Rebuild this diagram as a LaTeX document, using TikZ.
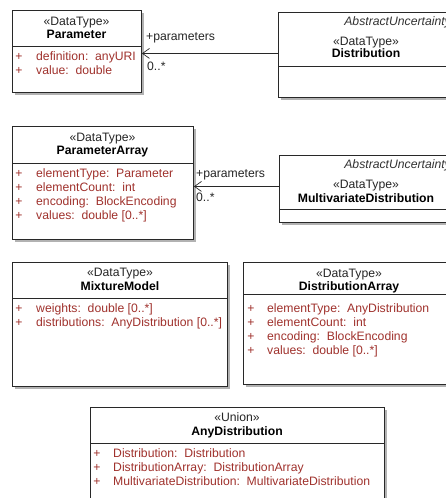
\documentclass[tikz,border=0pt]{standalone}
\usepackage{fontspec}
\setmainfont{Liberation Sans}
\usetikzlibrary{arrows.meta,shadows}
\definecolor{attrred}{RGB}{160,50,45}
\definecolor{edge}{RGB}{40,40,40}
\begin{document}
\begin{tikzpicture}[x=1pt,y=-1pt,
  every node/.style={inner sep=0pt, text height=8.8pt, text depth=2.6pt, font=\fontsize{12.2}{14}\selectfont},
  umlbox/.style={draw=edge, line width=0.9pt, fill=white, anchor=north west, text height=, text depth=,
    drop shadow={shadow xshift=2.5pt, shadow yshift=-2.5pt, fill=black!30, opacity=1}},
  divider/.style={draw=edge, line width=0.9pt},
  stereo/.style={text=black!85},
  cname/.style={font=\fontsize{12.2}{14}\selectfont\bfseries},
  abstr/.style={font=\fontsize{12.2}{14}\selectfont\itshape, text=black!80, anchor=east},
  plus/.style={text=attrred},
  attr/.style={text=attrred, anchor=west},
  assoc/.style={draw=edge, line width=0.8pt, -{Straight Barb[length=7pt,width=10pt,line width=0.7pt]}},
  rolelbl/.style={anchor=west, text=black!85}
]
\clip (0,0) rectangle (446,498);
\fill[white] (0,0) rectangle (446,498);

% Parameter
\node[umlbox, minimum width=129, minimum height=82] (param) at (12,10) {};
\draw[divider] (param.west |- 0,46) -- (param.east |- 0,46);
\node[stereo] (paramS) at (76.5,22) {«DataType»};
\node[cname] (paramN) at (76.5,35) {Parameter};
\node[plus] (paramP1) at (19,57) {+};
\node[attr] (paramA1) at (36,57) {definition:\ \ anyURI};
\node[plus] (paramP2) at (19,71) {+};
\node[attr] (paramA2) at (36,71) {value:\ \ double};

% Distribution
\node[umlbox, minimum width=176, minimum height=85] (dist) at (278,12) {};
\draw[divider] (dist.west |- 0,66) -- (dist.east |- 0,66);
\node[abstr] (distAb) at (451,22.5) {AbstractUncertainty};
\node[stereo] (distS) at (366,42.5) {«DataType»};
\node[cname] (distN) at (366,54.5) {Distribution};

% ParameterArray
\node[umlbox, minimum width=181, minimum height=113] (pa) at (12,126) {};
\draw[divider] (pa.west |- 0,163) -- (pa.east |- 0,163);
\node[stereo] (paS) at (102.5,138) {«DataType»};
\node[cname] (paN) at (102.5,151.5) {ParameterArray};
\node[plus] (paP1) at (19,174) {+};
\node[attr] (paA1) at (36,174) {elementType:\ \ Parameter};
\node[plus] (paP2) at (19,188) {+};
\node[attr] (paA2) at (36,188) {elementCount:\ \ int};
\node[plus] (paP3) at (19,202) {+};
\node[attr] (paA3) at (36,202) {encoding:\ \ BlockEncoding};
\node[plus] (paP4) at (19,216) {+};
\node[attr] (paA4) at (36,216) {values:\ \ double [0..*]};

% MultivariateDistribution
\node[umlbox, minimum width=176, minimum height=67] (mv) at (279,155) {};
\draw[divider] (mv.west |- 0,209) -- (mv.east |- 0,209);
\node[abstr] (mvAb) at (451,165) {AbstractUncertainty};
\node[stereo] (mvS) at (366,185) {«DataType»};
\node[cname] (mvN) at (366,199) {MultivariateDistribution};

% MixtureModel
\node[umlbox, minimum width=215, minimum height=124] (mm) at (12,262) {};
\draw[divider] (mm.west |- 0,298) -- (mm.east |- 0,298);
\node[stereo] (mmS) at (120,273.5) {«DataType»};
\node[cname] (mmN) at (120,287) {MixtureModel};
\node[plus] (mmP1) at (19,309) {+};
\node[attr] (mmA1) at (36,309) {weights:\ \ double [0..*]};
\node[plus] (mmP2) at (19,323) {+};
\node[attr] (mmA2) at (36,323) {distributions:\ \ AnyDistribution [0..*]};

% DistributionArray
\node[umlbox, minimum width=212, minimum height=122] (da) at (243,262) {};
\draw[divider] (da.west |- 0,294) -- (da.east |- 0,294);
\node[stereo] (daS) at (349,274) {«DataType»};
\node[cname] (daN) at (349,287) {DistributionArray};
\node[plus] (daP1) at (251,309) {+};
\node[attr] (daA1) at (267,309) {elementType:\ \ AnyDistribution};
\node[plus] (daP2) at (251,323) {+};
\node[attr] (daA2) at (267,323) {elementCount:\ \ int};
\node[plus] (daP3) at (251,337) {+};
\node[attr] (daA3) at (267,337) {encoding:\ \ BlockEncoding};
\node[plus] (daP4) at (251,351) {+};
\node[attr] (daA4) at (267,351) {values:\ \ double [0..*]};

% AnyDistribution
\node[umlbox, minimum width=294, minimum height=103] (ad) at (90,407) {};
\draw[divider] (ad.west |- 0,443) -- (ad.east |- 0,443);
\node[stereo] (adS) at (237,418) {«Union»};
\node[cname] (adN) at (237,432) {AnyDistribution};
\node[plus] (adP1) at (97,454) {+};
\node[attr] (adA1) at (113,454) {Distribution:\ \ Distribution};
\node[plus] (adP2) at (97,468) {+};
\node[attr] (adA2) at (113,468) {DistributionArray:\ \ DistributionArray};
\node[plus] (adP3) at (97,482) {+};
\node[attr] (adA3) at (113,482) {MultivariateDistribution:\ \ MultivariateDistribution};

% associations
\draw[assoc] ([yshift=1.5pt]dist.west) -- ([yshift=1.5pt]dist.west -| param.east);
\node[rolelbl] (r1) at (146,37.5) {+parameters};
\node[rolelbl] (m1) at (147,67) {0..*};
\draw[assoc] ([yshift=2.5pt]mv.west) -- ([yshift=2.5pt]mv.west -| pa.east);
\node[rolelbl] (r2) at (196,174) {+parameters};
\node[rolelbl] (m2) at (196,198) {0..*};
\end{tikzpicture}
\end{document}
